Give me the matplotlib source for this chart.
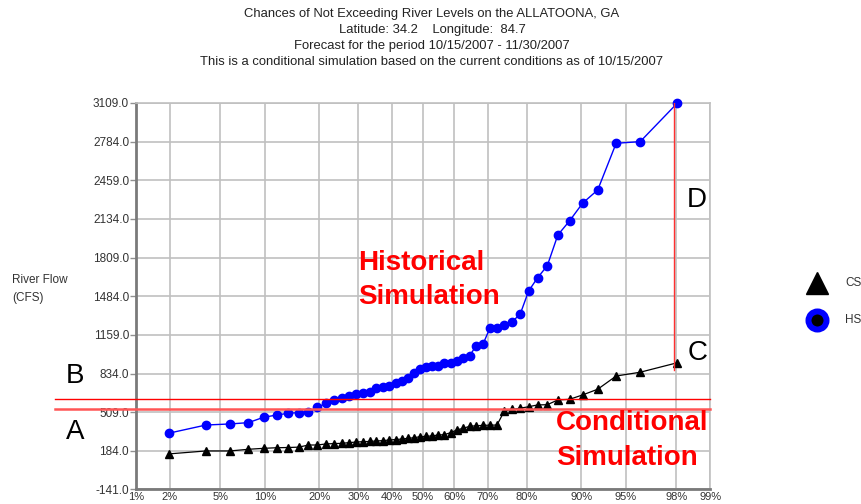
import numpy as np
import matplotlib
matplotlib.use('Agg')
import matplotlib.pyplot as plt
from matplotlib.lines import Line2D
from statistics import NormalDist

plt.rcParams['font.family'] = ['Liberation Sans', 'DejaVu Sans']

# Probabilidad de no excedencia (%) de cada punto
exceed_pct = [1.96, 3.92, 5.88, 7.84, 9.80, 11.76, 13.73, 15.69, 17.65, 19.61,
              21.57, 23.53, 25.49, 27.45, 29.41, 31.37, 33.33, 35.29, 37.25, 39.22,
              41.18, 43.14, 45.10, 47.06, 49.02, 50.98, 52.94, 54.90, 56.86, 58.82,
              60.78, 62.75, 64.71, 66.67, 68.63, 70.59, 72.55, 74.51, 76.47, 78.43,
              80.39, 82.35, 84.31, 86.27, 88.24, 90.20, 92.16, 94.12, 96.08, 98.04]

# Simulacion historica (HS) y condicional (CS), caudal en CFS
hs_flow = [332, 401, 410, 421, 466, 485, 500, 505, 507, 550,
           584, 612, 631, 645, 660, 673, 678, 710, 718, 729,
           752, 771, 799, 836, 870, 892, 895, 900, 920, 925,
           940, 967, 984, 1068, 1080, 1215, 1220, 1242, 1270, 1332,
           1528, 1640, 1741, 1999, 2117, 2266, 2378, 2770, 2784, 3109]
cs_flow = [158, 183, 183, 197, 205, 210, 212, 215, 233, 233,
           242, 245, 247, 253, 258, 261, 263, 267, 270, 275,
           279, 283, 289, 294, 303, 305, 310, 317, 320, 337,
           359, 374, 390, 395, 398, 400, 401, 519, 533, 542,
           555, 570, 572, 612, 617, 654, 702, 813, 845, 925]

x_ticks = [1, 2, 5, 10, 20, 30, 40, 50, 60, 70, 80, 90, 95, 98, 99]
y_ticks = [-141, 184, 509, 834, 1159, 1484, 1809, 2134, 2459, 2784, 3109]

# lineas de referencia (A/B y C-D)
level_a = 536
level_b = 620
d_x = 97.9
d_bottom = 860

title_lines = ["Chances of Not Exceeding River Levels on the ALLATOONA, GA",
               "Latitude: 34.2    Longitude:  84.7",
               "Forecast for the period 10/15/2007 - 11/30/2007",
               "This is a conditional simulation based on the current conditions as of 10/15/2007"]

# escala de probabilidad normal
_nd = NormalDist()
_ppf = np.vectorize(_nd.inv_cdf, otypes=[float])
_cdf = np.vectorize(_nd.cdf, otypes=[float])


def prob_fwd(p):
    p = np.clip(np.asarray(p, dtype=float) / 100.0, 1e-6, 1 - 1e-6)
    return _ppf(p)


def prob_inv(z):
    return _cdf(np.asarray(z, dtype=float)) * 100.0


fig = plt.figure(figsize=(8.61, 5.04), dpi=100)
ax = fig.add_axes([0.158, 0.0288, 0.6667, 0.7669])
ax.set_xscale('function', functions=(prob_fwd, prob_inv))
ax.set_xlim(1, 99)
ax.set_ylim(-141, 3109)

ax.plot(exceed_pct, hs_flow, color='#0000ff', lw=1.0, marker='o', ms=6,
        mfc='#0000ff', mec='#0000ff', zorder=4, clip_on=False)
ax.plot(exceed_pct, cs_flow, color='black', lw=0.9, marker='^', ms=5.5,
        mfc='black', mec='black', zorder=4, clip_on=False)

ax.set_xticks(x_ticks)
ax.set_xticklabels([f'{t}%' for t in x_ticks])
ax.set_yticks(y_ticks)
ax.set_yticklabels([f'{v:.1f}' for v in y_ticks])
ax.minorticks_off()
ax.grid(True, color='#c0c0c0', lw=1.2)
ax.set_axisbelow(True)
ax.tick_params(axis='y', length=4, width=1, color='#909090', pad=1,
               labelsize=8.5, labelcolor='#333333')
ax.tick_params(axis='x', length=0, pad=2, labelsize=8, labelcolor='#333333')
for side in ['top', 'right']:
    ax.spines[side].set_color('#c0c0c0')
    ax.spines[side].set_linewidth(1.2)
for side in ['left', 'bottom']:
    ax.spines[side].set_color('#7a7a7a')
    ax.spines[side].set_linewidth(2)

# lineas rojas
trans = ax.get_yaxis_transform()
ax.plot([-0.141, 1.0], [level_b, level_b], color='#ff0000', lw=1.0,
        transform=trans, clip_on=False, zorder=5)
ax.plot([-0.141, 1.0], [level_a, level_a], color='#ff5555', lw=1.8,
        transform=trans, clip_on=False, zorder=5)
ax.plot([d_x, d_x], [d_bottom, hs_flow[-1]], color='#ff3030', lw=1.0, zorder=5)

# titulo
for i, line in enumerate(title_lines):
    fig.text(0.5017, 0.972 - i * 0.0317, line, ha='center', va='center',
             fontsize=9.4, color='#222222')

fig.text(0.0139, 0.444, 'River Flow', ha='left', va='center', fontsize=8.5, color='#333333')
fig.text(0.0139, 0.409, '(CFS)', ha='left', va='center', fontsize=8.5, color='#333333')

# etiquetas A, B, C, D
fig.text(0.0871, 0.143, 'A', ha='center', va='center', fontsize=20)
fig.text(0.0871, 0.254, 'B', ha='center', va='center', fontsize=20)
fig.text(0.8107, 0.2996, 'C', ha='center', va='center', fontsize=20)
fig.text(0.8095, 0.603, 'D', ha='center', va='center', fontsize=20)

fig.text(0.4158, 0.4782, 'Historical', ha='left', va='center', fontsize=20,
         fontweight='bold', color='#ff0000')
fig.text(0.4158, 0.4107, 'Simulation', ha='left', va='center', fontsize=20,
         fontweight='bold', color='#ff0000')
fig.text(0.6458, 0.1607, 'Conditional', ha='left', va='center', fontsize=20,
         fontweight='bold', color='#ff0000')
fig.text(0.6458, 0.0913, 'Simulation', ha='left', va='center', fontsize=20,
         fontweight='bold', color='#ff0000')

# leyenda
fig.add_artist(Line2D([0.9489], [0.4385], marker='^', ms=16.5, color='black',
                      lw=0, transform=fig.transFigure))
fig.add_artist(Line2D([0.9489], [0.3651], marker='o', ms=13, mfc='black',
                      mec='#0000ff', mew=4.3, lw=0, transform=fig.transFigure))
fig.text(0.9814, 0.4385, 'CS', ha='left', va='center', fontsize=8.5, color='#333333')
fig.text(0.9814, 0.3651, 'HS', ha='left', va='center', fontsize=8.5, color='#333333')

fig.savefig('out.png', dpi=100)
